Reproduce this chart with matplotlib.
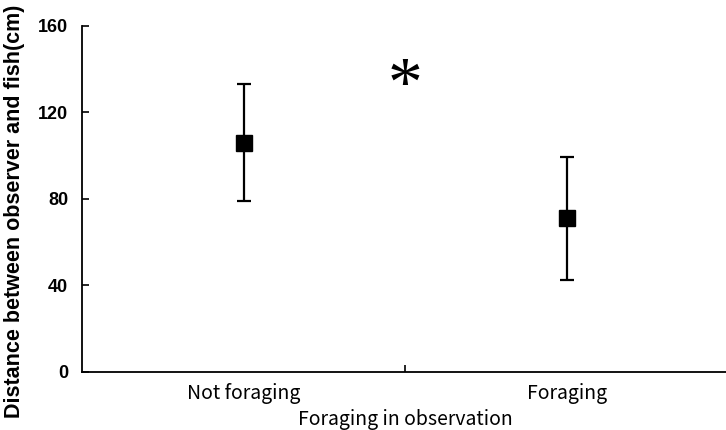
import matplotlib
matplotlib.use('Agg')
import matplotlib.pyplot as plt

plt.rcParams['font.family'] = ['Noto Sans CJK JP', 'DejaVu Sans']

# group means and error bars (cm)
groups = ['Not foraging', 'Foraging']
means = [106, 71]
errors = [27, 28.5]
positions = [0.5, 1.5]

fig = plt.figure(figsize=(7.26, 4.30), dpi=100)
ax = fig.add_axes([0.113, 0.135, 0.891, 0.805])

ax.errorbar(positions, means, yerr=errors, fmt='s', color='black',
            markersize=11, elinewidth=1.6, capsize=5, capthick=1.6)

ax.set_xlim(0, 2)
ax.set_ylim(0, 160)
ax.set_yticks([0, 40, 80, 120, 160])
ax.set_xticks([1])
ax.set_xticklabels([''])
ax.tick_params(axis='both', direction='in', length=5, width=1.2)
ax.tick_params(axis='y', pad=10)
for t in ax.get_yticklabels():
    t.set_fontfamily('Liberation Sans')
    t.set_fontsize(13)
    t.set_fontweight('bold')

# category names sit between the ticks
for p, g in zip(positions, groups):
    ax.text(p, -5, g, ha='center', va='top', fontsize=14)

ax.spines['top'].set_visible(False)
ax.spines['right'].set_visible(False)
ax.spines['left'].set_linewidth(1.3)
ax.spines['bottom'].set_linewidth(1.3)

ax.text(1, 131, '*', ha='center', va='center', fontsize=50,
        family='Liberation Serif')

fig.text(0.559, 0.0, 'Foraging in observation', ha='center', va='bottom',
         fontsize=14)
fig.text(0.006, 0.508, 'Distance between observer and fish(cm)', rotation=90,
         ha='left', va='center', fontsize=15.5, fontweight='bold',
         family='Liberation Sans')

plt.savefig('out.png')
